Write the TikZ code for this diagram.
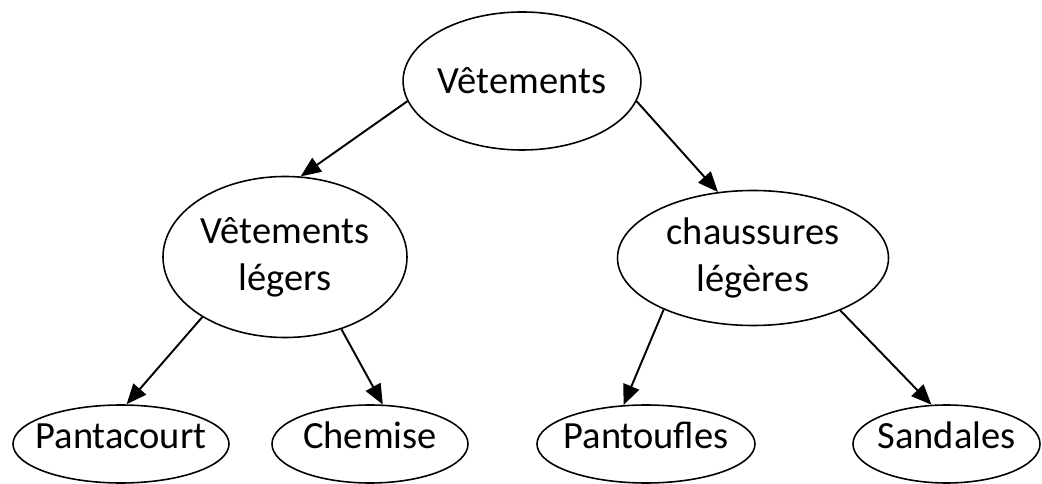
\documentclass[tikz,border=0pt]{standalone}
\usepackage{fontspec}
\setmainfont{Carlito}
\usetikzlibrary{shapes.geometric,arrows.meta}
\begin{document}
\begin{tikzpicture}[cat/.style={draw,ellipse,line width=0.9pt,inner sep=0pt,align=center,font=\fontsize{21.9}{26.7}\selectfont},item/.style={cat,inner xsep=-0.3cm,minimum height=1.56 cm,text height=0.75em,text depth=0.25em},tocat/.style={line width=1.1pt,-{Triangle[length=11.5pt,width=9.5pt]}}]
\useasboundingbox (0,0) rectangle (20.84,-9.68);
\node[cat,minimum width=4.72 cm,minimum height=2.76 cm] (A) at (10.44,-1.62) {Vêtements};
\node[cat,minimum width=4.88 cm,minimum height=3.22 cm] (B) at (5.70,-5.14) {Vêtements\\légers};
\node[cat,minimum width=5.42 cm,minimum height=2.70 cm] (C) at (15.06,-5.16) {chaussures\\légères};
\node[item,minimum width=4.32 cm] (D) at (2.42,-8.88) {Pantacourt};
\node[item,minimum width=3.92 cm] (E) at (7.40,-8.88) {Chemise};
\node[item,minimum width=4.36 cm] (F) at (12.92,-8.88) {Pantoufles};
\node[item,minimum width=3.74 cm] (G) at (18.93,-8.88) {Sandales};
\draw[tocat] (A.190) -- (B.79);
\draw[tocat] (A.350) -- (C.118);
\draw[tocat] (B.216) -- (D.82);
\draw[tocat] (B.308) -- (E.72);
\draw[tocat] (C.210) -- (F.120);
\draw[tocat] (C.329) -- (G.111);
\end{tikzpicture}
\end{document}
